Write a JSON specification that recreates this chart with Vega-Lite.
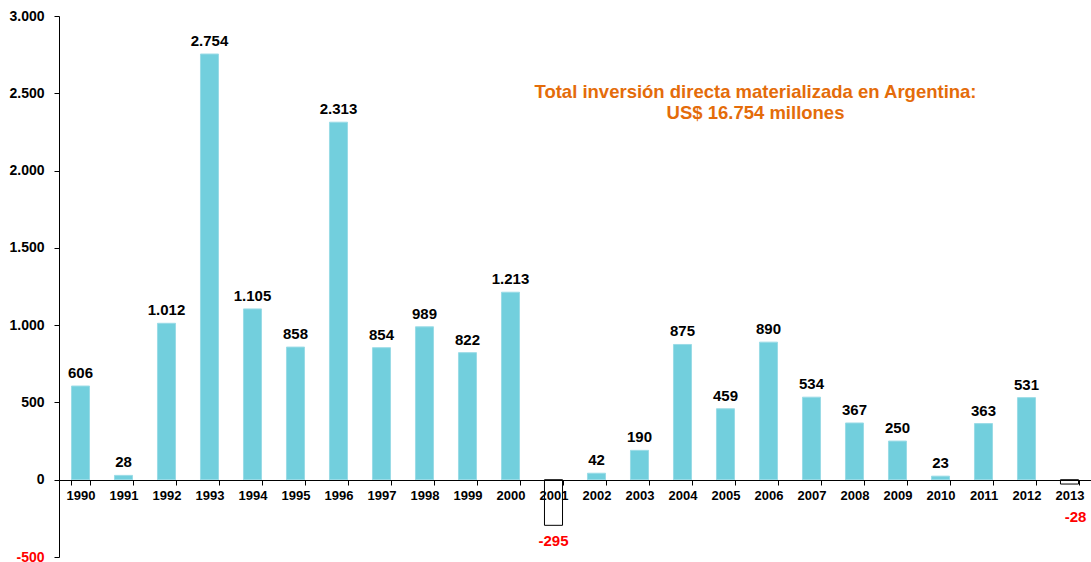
{
  "$schema": "https://vega.github.io/schema/vega-lite/v6.json",
  "width": 1032,
  "height": 541,
  "autosize": "none",
  "padding": {"left": 59, "top": 16, "right": 0, "bottom": 5},
  "background": "white",
  "config": {
    "view": {"stroke": null},
    "font": "Liberation Sans",
    "locale": {"number": {"decimal": ",", "thousands": ".", "grouping": [3], "currency": ["$", ""], "minus": "-"}}
  },
  "data": {
    "values": [
      {"year": "1990", "value": 606},
      {"year": "1991", "value": 28},
      {"year": "1992", "value": 1012},
      {"year": "1993", "value": 2754},
      {"year": "1994", "value": 1105},
      {"year": "1995", "value": 858},
      {"year": "1996", "value": 2313},
      {"year": "1997", "value": 854},
      {"year": "1998", "value": 989},
      {"year": "1999", "value": 822},
      {"year": "2000", "value": 1213},
      {"year": "2001", "value": -295},
      {"year": "2002", "value": 42},
      {"year": "2003", "value": 190},
      {"year": "2004", "value": 875},
      {"year": "2005", "value": 459},
      {"year": "2006", "value": 890},
      {"year": "2007", "value": 534},
      {"year": "2008", "value": 367},
      {"year": "2009", "value": 250},
      {"year": "2010", "value": 23},
      {"year": "2011", "value": 363},
      {"year": "2012", "value": 531},
      {"year": "2013", "value": -28}
    ]
  },
  "encoding": {
    "x": {
      "field": "year",
      "type": "nominal",
      "sort": null,
      "scale": {"paddingInner": 0.58, "paddingOuter": 0.29},
      "axis": {
        "title": null,
        "offset": -77,
        "labelAngle": 0,
        "labelFont": "Liberation Sans",
        "labelFontWeight": "bold",
        "labelFontSize": 13,
        "labelColor": "black",
        "labelPadding": 4,
        "tickBand": "extent",
        "tickSize": 5,
        "tickColor": "black",
        "domainColor": "black",
        "zindex": 1
      }
    },
    "y": {
      "field": "value",
      "type": "quantitative",
      "scale": {"domain": [-500, 3000], "nice": false},
      "axis": {
        "title": null,
        "values": [-500, 0, 500, 1000, 1500, 2000, 2500, 3000],
        "format": ",d",
        "grid": false,
        "labelFont": "Liberation Sans",
        "labelFontWeight": "bold",
        "labelFontSize": 14,
        "labelColor": {"condition": {"test": "datum.value < 0", "value": "#FF0000"}, "value": "black"},
        "labelPadding": 10,
        "tickSize": 5,
        "tickColor": "black",
        "domainColor": "black"
      }
    }
  },
  "layer": [
    {
      "mark": {"type": "bar", "strokeWidth": 1},
      "encoding": {
        "fill": {"condition": {"test": "datum.value < 0", "value": "white"}, "value": "#72CFDD"},
        "stroke": {"condition": {"test": "datum.value < 0", "value": "black"}, "value": "#9ADBE6"}
      }
    },
    {
      "transform": [{"filter": "datum.value >= 0"}],
      "mark": {"type": "text", "baseline": "bottom", "dy": -5, "fontSize": 15, "fontWeight": "bold", "color": "black"},
      "encoding": {"text": {"field": "value", "type": "quantitative", "format": ",d"}}
    },
    {
      "transform": [{"filter": "datum.value < -100"}],
      "mark": {"type": "text", "baseline": "top", "dy": 9, "fontSize": 15, "fontWeight": "bold", "color": "#FF0000"},
      "encoding": {"text": {"field": "value", "type": "quantitative", "format": ",d"}}
    },
    {
      "transform": [{"filter": "datum.value < 0 && datum.value >= -100"}],
      "mark": {"type": "text", "baseline": "top", "dy": 26, "dx": 6, "fontSize": 15, "fontWeight": "bold", "color": "#FF0000"},
      "encoding": {"text": {"field": "value", "type": "quantitative", "format": ",d"}}
    },
    {
      "transform": [{"filter": "datum.year == '2006'"}],
      "mark": {
        "type": "text",
        "text": ["Total inversión directa materializada en Argentina:", "US$ 16.754 millones"],
        "fontSize": 18.5,
        "fontWeight": "bold",
        "color": "#E46C0A",
        "align": "center",
        "baseline": "middle",
        "lineHeight": 21,
        "dx": -13
      },
      "encoding": {
        "y": {"datum": 2508},
        "text": null
      }
    }
  ]
}
